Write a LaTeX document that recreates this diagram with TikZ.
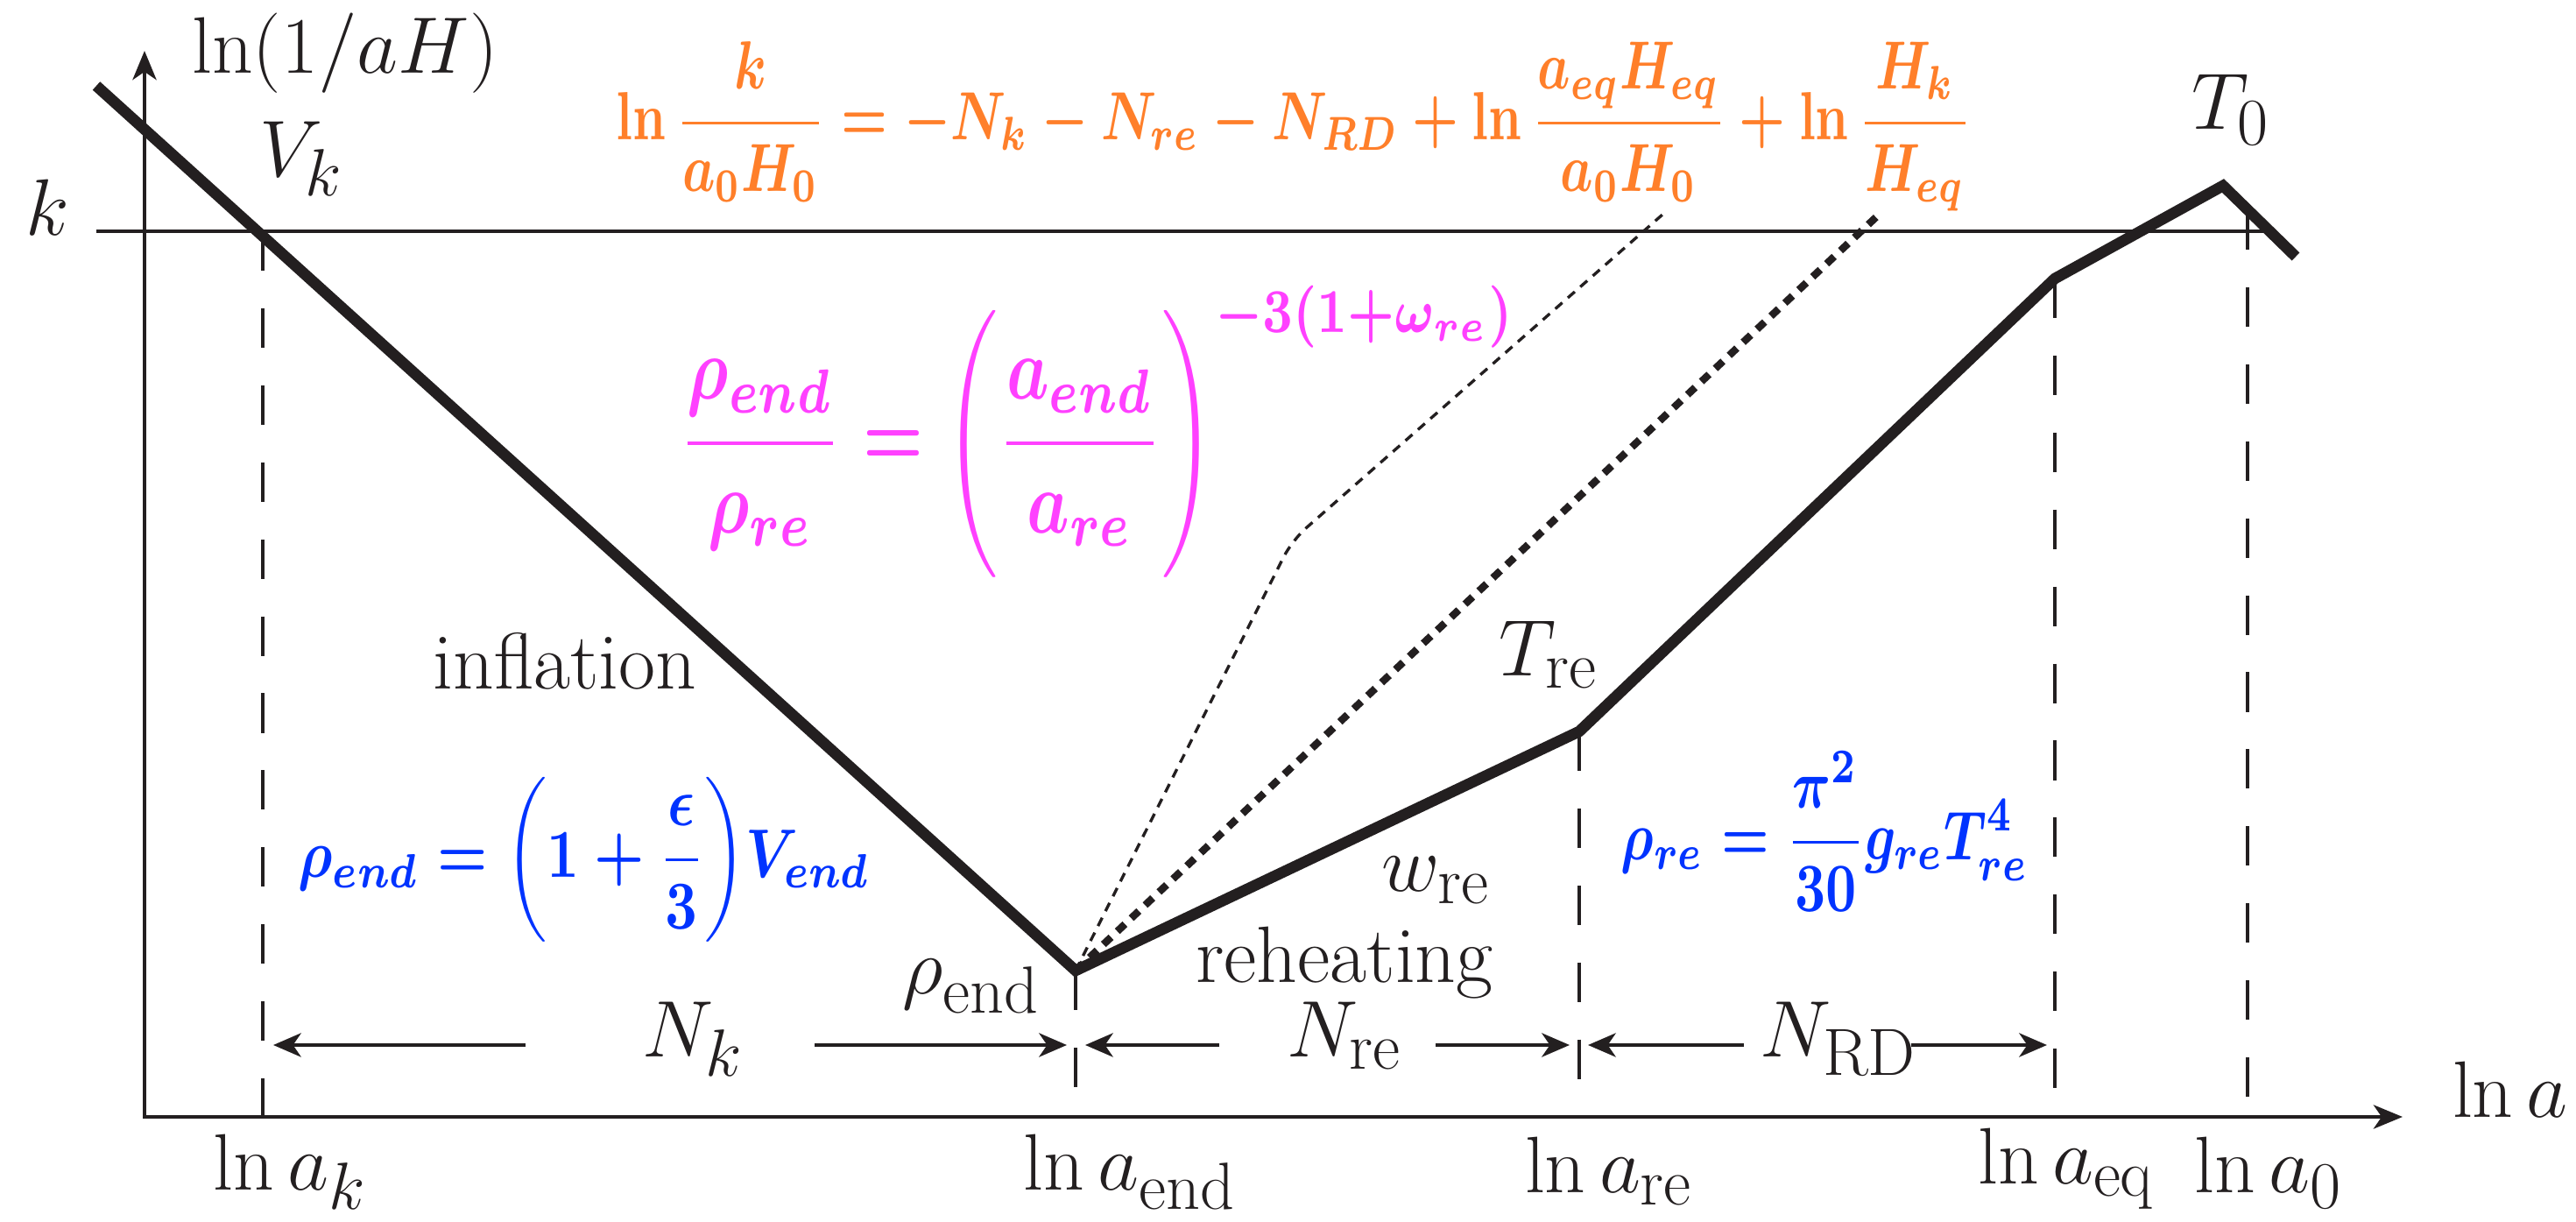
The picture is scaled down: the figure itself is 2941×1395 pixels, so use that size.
\documentclass[tikz,border=0pt]{standalone}
\usepackage{graphicx}
\usetikzlibrary{arrows.meta}
\definecolor{ink}{HTML}{231F20}
\definecolor{eqorange}{HTML}{FF7F2A}
\definecolor{eqpink}{HTML}{FF40FF}
\definecolor{eqblue}{HTML}{0033FF}
\begin{document}
\begin{tikzpicture}[x=0.01cm,y=-0.01cm,
  lbl/.style={inner sep=0pt, anchor=base, text=ink, font=\fontsize{24.88pt}{30pt}\selectfont, scale=1.045, transform shape},
  eqn/.style={inner sep=0pt, anchor=north west, font=\boldmath},
  axisline/.style={draw=ink, line width=1.4pt, {Stealth[length=9.4pt,width=7.7pt,inset=2.6pt]}-{Stealth[length=9.4pt,width=7.7pt,inset=2.6pt]}},
  curveline/.style={draw=ink, line width=3.6pt, line join=miter},
  guideline/.style={draw=ink, line width=0.9pt, dash pattern=on 12.8pt off 12.2pt},
  kline/.style={draw=ink, line width=1.4pt},
  spanarrow/.style={draw=ink, line width=1.3pt, -{Stealth[length=9pt,width=7.7pt,inset=2.6pt]}},
  thindot/.style={draw=ink, line width=0.95pt, dash pattern=on 3pt off 2.4pt, rounded corners=6pt},
  thickdot/.style={draw=ink, line width=2.4pt, dash pattern=on 3.4pt off 2.8pt},
]
\useasboundingbox (0,0) rectangle (2941,1395);

% axes
\coordinate (O) at (165,1275);
\coordinate (Ytip) at (165,58);
\coordinate (Xtip) at (2743,1275);
\draw[axisline] (Ytip) -- (O) -- (Xtip);

% k line
\coordinate (kL) at (110,264);
\coordinate (kR) at (2590,264);
\draw[kline] (kL) -- (kR);

% main curve
\coordinate (c0) at (110,98);
\coordinate (cE) at (1228,1108);
\coordinate (cR) at (1803,835);
\coordinate (cQ) at (2346,318);
\coordinate (cP) at (2538,212);
\coordinate (cZ) at (2621,293);

% guides
\coordinate (gk) at (300,264);   \coordinate (gk0) at (300,1275);
\coordinate (gE0) at (1228,1275);
\coordinate (gR0) at (1803,1275);
\coordinate (gQ0) at (2346,1275);
\coordinate (g0t) at (2566,240); \coordinate (g00) at (2566,1275);
\draw[guideline] (gk) -- (gk0);
\draw[guideline] (cE) -- (gE0);
\draw[guideline] (cR) -- (gR0);
\draw[guideline] (cQ) -- (gQ0);
\draw[guideline] (g0t) -- (g00);

% dotted alternatives
\coordinate (dBend) at (1475,617);
\coordinate (dTop1) at (1898,245);
\coordinate (dTop2) at (2145,245);
\draw[thindot] (cE) -- (dBend) -- (dTop1);
\draw[thickdot] (cE) -- (dTop2);

\draw[curveline] (c0) -- (cE) -- (cR) -- (cQ) -- (cP) -- (cZ);

% span arrows
\coordinate (s1a) at (600,1193);  \coordinate (s1t) at (312,1193);
\coordinate (s2a) at (930,1193);  \coordinate (s2t) at (1218,1193);
\coordinate (s3a) at (1392,1193); \coordinate (s3t) at (1239,1193);
\coordinate (s4a) at (1639,1193); \coordinate (s4t) at (1792,1193);
\coordinate (s5a) at (1991,1193); \coordinate (s5t) at (1813,1193);
\coordinate (s6a) at (2182,1193); \coordinate (s6t) at (2337,1193);
\draw[spanarrow] (s1a) -- (s1t);
\draw[spanarrow] (s2a) -- (s2t);
\draw[spanarrow] (s3a) -- (s3t);
\draw[spanarrow] (s4a) -- (s4t);
\draw[spanarrow] (s5a) -- (s5t);
\draw[spanarrow] (s6a) -- (s6t);

% labels
\node[lbl] (ylab) at (394,84) {$\ln(1/aH)$};
\node[lbl] (Vk) at (344,202) {$V_k$};
\node[lbl] (klab) at (54,269) {$k$};
\node[lbl] (T0) at (2547,148) {$T_0$};
\node[lbl] (infl) at (645,787) {inflation};
\node[lbl] (Tre) at (1768,772) {$T_{\rm re}$};
\node[lbl] (wre) at (1639,1018) {$w_{\rm re}$};
\node[lbl] (reh) at (1535,1122) {reheating};
\node[lbl] (rend) at (1109,1135) {$\rho_{\rm end}$};
\node[lbl] (Nk) at (791,1207) {$N_k$};
\node[lbl] (Nre) at (1535,1207) {$N_{\rm re}$};
\node[lbl] (NRD) at (2099,1207) {$N_{\rm RD}$};
\node[lbl] (lak) at (331,1359) {$\ln a_k$};
\node[lbl] (laend) at (1290,1359) {$\ln a_{\rm end}$};
\node[lbl] (lare) at (1837,1362) {$\ln a_{\rm re}$};
\node[lbl] (laeq) at (2359,1352) {$\ln a_{\rm eq}$};
\node[lbl] (la0) at (2590,1362) {$\ln a_0$};
\node[lbl] (lna) at (2866,1276) {$\ln a$};

% coloured equations
\node[eqn, text=eqorange] (eqN) at (703,47) {\resizebox*{15.46cm}{1.93cm}{$\displaystyle\ln\frac{k}{a_0H_0}=-N_k-N_{re}-N_{RD}+\ln\frac{a_{eq}H_{eq}}{a_0H_0}+\ln\frac{H_k}{H_{eq}}$}};
\node[eqn, text=eqpink] (eqRho) at (775,325) {\resizebox*{9.54cm}{3.33cm}{$\displaystyle\frac{\rho_{end}}{\rho_{re}}=\Biggl(\frac{a_{end}}{a_{re}}\Biggr)^{-3(1+\omega_{re})}$}};
\node[eqn, text=eqblue] (eqEnd) at (340,887) {\resizebox*{6.53cm}{1.88cm}{$\displaystyle\rho_{end}=\biggl(1+\frac{\epsilon}{3}\biggr)V_{end}$}};
\node[eqn, text=eqblue] (eqRe) at (1850,857) {\resizebox*{4.65cm}{1.83cm}{$\displaystyle\rho_{re}=\frac{\pi^2}{30}g_{re}T_{re}^4$}};
\end{tikzpicture}
\end{document}
